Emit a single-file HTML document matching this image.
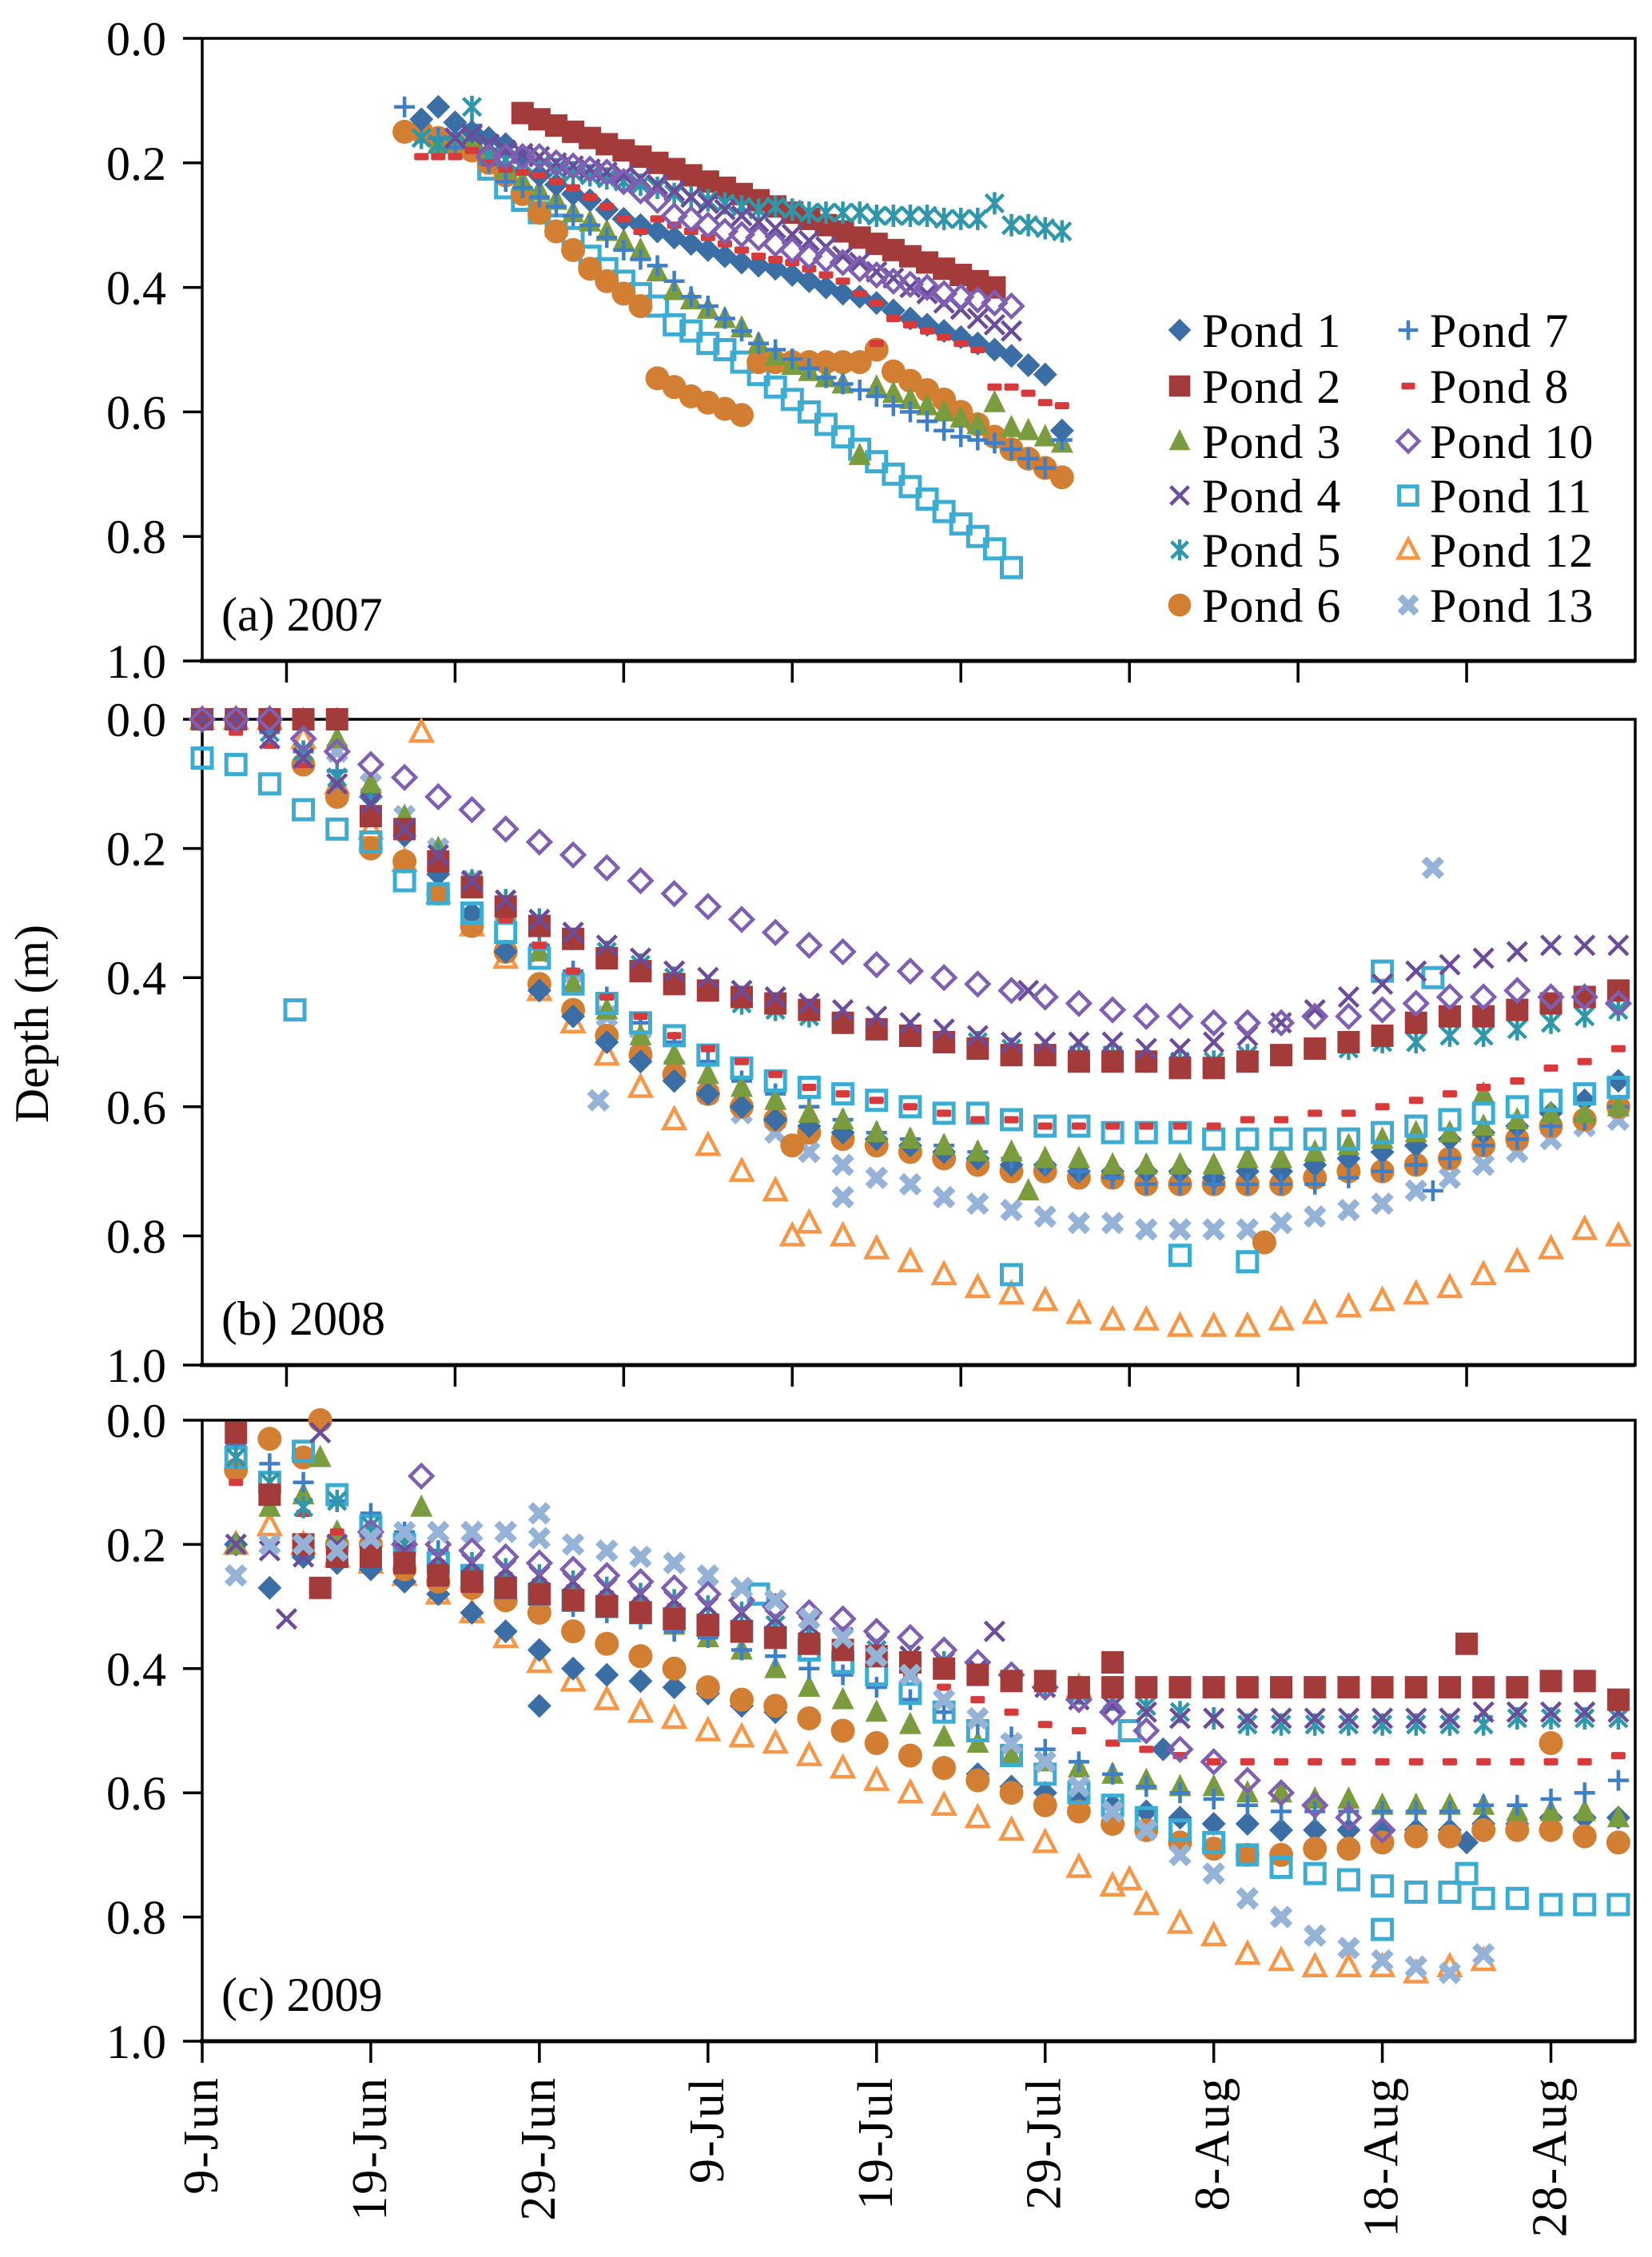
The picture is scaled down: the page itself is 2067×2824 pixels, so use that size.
<!DOCTYPE html>
<html><head><meta charset="utf-8"><style>
html,body{margin:0;padding:0;background:#fff;}
svg{display:block;font-family:"Liberation Serif",serif;}
</style></head><body>
<svg id="chart" width="2067" height="2824" viewBox="0 0 2067 2824" xmlns="http://www.w3.org/2000/svg">
<rect width="2067" height="2824" fill="#fff"/>
<g id="frames"></g>
<g id="marks"></g>
<g id="labels" font-size="60" fill="#000"></g>
<text x="0" y="0" font-size="60" text-anchor="middle" transform="translate(60,1281) rotate(-90)">Depth (m)</text>
<g id="legend" font-size="60"></g>
</svg>
<script>
// ---------- data ----------
const yTicks = [0.0, 0.2, 0.4, 0.6, 0.8, 1.0];
const yTickLabels = ["0.0","0.2","0.4","0.6","0.8","1.0"];
const xTickDays = [0,10,20,30,40,50,60,70,80];
const xTickLabels = ["9-Jun","19-Jun","29-Jun","9-Jul","19-Jul","29-Jul","8-Aug","18-Aug","28-Aug"];
const abTickDays = [5,15,25,35,45,55,65,75];
const panelNames = ["(a) 2007","(b) 2008","(c) 2009"];

// Panel a (2007), daily values
const a1 = [.13,.11,.135,.15,.16,.17,.19,.22,.235,.25,.26,.275,.29,.30,.31,.32,.33,.34,.35,.36,.365,.37,.38,.39,.40,.41,.415,.425,.437,.45,.46,.47,.48,.49,.50,.51,.525,.54];
const a2 = [.12,.13,.14,.15,.16,.17,.18,.19,.20,.21,.22,.23,.24,.25,.26,.27,.28,.29,.30,.31,.32,.33,.34,.35,.36,.37,.38,.39,.40];
const a3 = [.17,.165,.16,.19,.21,.23,.245,.26,.28,.295,.31,.325,.34,.375,.405,.42,.435,.45,.465,.49,.51,.525,.535,.545,.555,.67,.56,.57,.58,.59,.60,.61,.62,.585,.625,.63,.64,.65];
const a4 = [.16,.155,.17,.18,.185,.19,.20,.205,.21,.215,.22,.225,.235,.245,.255,.265,.275,.285,.295,.305,.315,.325,.335,.35,.36,.375,.385,.40,.41,.425,.435,.45,.46,.47];
const a5 = [.16,.17,.15,.11,.19,.195,.20,.205,.21,.215,.22,.225,.23,.235,.24,.25,.255,.26,.265,.27,.275,.27,.275,.28,.28,.28,.28,.285,.285,.285,.285,.29,.29,.29,.265,.30,.30,.305,.31];
const a6s1 = [.15,.15,.16,.17,.18,.20,.22,.25,.28,.31,.34,.37,.39,.41,.43];
const a6s2 = [.546,.56,.575,.585,.595,.605];
const a6s3 = [.52,.52,.52,.52,.52,.52,.52,.50];
const a6s4 = [.535,.55,.565,.58,.60,.62,.64,.66,.675,.69,.705];
const a7 = [.11,.13,.16,.175,.14,.20,.23,.24,.255,.27,.285,.30,.32,.34,.355,.365,.39,.415,.43,.45,.47,.49,.50,.515,.53,.545,.555,.565,.575,.59,.60,.615,.63,.64,.645,.65,.66,.675,.69,.645];
const a8 = [.19,.19,.19,.18,.20,.21,.215,.22,.23,.24,.255,.27,.29,.31,.29,.30,.31,.32,.33,.34,.35,.355,.36,.37,.38,.39,.41,.425,.45,.46,.47,.48,.49,.50,.56,.56,.57,.585,.59];
const a10 = [.19,.19,.19,.19,.20,.205,.21,.215,.23,.245,.26,.285,.29,.30,.31,.315,.32,.33,.34,.35,.355,.36,.37,.38,.39,.395,.40,.41,.415,.42,.425,.43];
const a11 = [.21,.24,.26,.28,.30,.32,.35,.37,.39,.41,.43,.46,.47,.49,.50,.52,.54,.56,.58,.60,.62,.64,.66,.68,.70,.72,.74,.76,.78,.80,.82,.85];
const aOut1 = [[51,.63]];
const aOut8 = [[40,.49]];

// Panel b (2008), every 2 days from day 0
const b1 = [0,0,0,0,0,.12,.18,.24,.3,.36,.42,.46,.5,.53,.56,.58,.6,.62,.63,.64,.65,.66,.67,.68,.69,.69,.7,.7,.7,.7,.71,.7,.7,.69,.68,.67,.66,.65,.64,.63,.61,.59,.56];
const b2 = [0,0,0,0,0,.15,.17,.22,.26,.29,.32,.34,.37,.39,.41,.42,.43,.44,.45,.47,.48,.49,.5,.51,.52,.52,.53,.53,.53,.54,.54,.53,.52,.51,.5,.49,.47,.46,.46,.45,.44,.43,.42];
const b3 = [0,0,0,0,.03,.1,.15,.2,.25,.3,.36,.41,.45,.49,.52,.55,.57,.59,.61,.62,.64,.65,.66,.67,.67,.68,.68,.69,.69,.69,.69,.68,.68,.67,.66,.65,.64,.64,.63,.62,.61,.61,.6];
const b4 = [0,0,.03,.06,.1,.13,.17,.21,.25,.28,.31,.33,.35,.37,.39,.4,.42,.43,.44,.45,.46,.47,.48,.49,.5,.5,.5,.5,.51,.51,.5,.49,.47,.45,.43,.41,.39,.38,.37,.36,.35,.35,.35];
const b5 = [0,0,.02,.05,.09,.13,.17,.21,.25,.28,.31,.34,.36,.38,.4,.42,.44,.45,.46,.47,.48,.49,.5,.5,.51,.52,.52,.52,.53,.53,.53,.52,.52,.51,.51,.5,.5,.49,.49,.48,.47,.46,.45];
const b6 = [0,0,0,.07,.12,.2,.22,.27,.32,.36,.41,.45,.49,.52,.55,.58,.6,.62,.64,.65,.66,.67,.68,.69,.7,.7,.71,.71,.72,.72,.72,.72,.72,.71,.7,.7,.69,.68,.66,.65,.63,.62,.6];
const b7 = [0,0,.02,.05,.08,.12,.16,.21,.26,.3,.35,.39,.43,.47,.5,.53,.56,.58,.6,.62,.64,.65,.66,.67,.68,.69,.7,.71,.72,.72,.72,.72,.72,.72,.71,.7,.69,.68,.66,.65,.63,.62,.6];
const b8 = [0,.02,.04,.07,.1,.14,.18,.22,.27,.31,.35,.39,.43,.46,.49,.51,.53,.55,.57,.58,.59,.6,.61,.62,.62,.63,.63,.63,.63,.63,.63,.62,.62,.61,.61,.6,.59,.58,.57,.56,.54,.53,.51];
const b10 = [0,0,0,.03,.05,.07,.09,.12,.14,.17,.19,.21,.23,.25,.27,.29,.31,.33,.35,.36,.38,.39,.4,.41,.42,.43,.44,.45,.46,.46,.47,.47,.47,.46,.46,.45,.44,.43,.43,.42,.43,.43,.44];
const b11 = [.06,.07,.1,.14,.17,.19,.25,.27,.3,.33,.37,.41,.44,.47,.49,.52,.54,.56,.57,.58,.59,.6,.61,.61,.62,.63,.63,.64,.64,.64,.65,.65,.65,.65,.65,.64,.63,.62,.61,.6,.59,.58,.57];
const b12 = [0,0,0,.03,.1,.17,.22,.27,.32,.37,.42,.47,.52,.57,.62,.66,.7,.73,.78,.8,.82,.84,.86,.88,.89,.9,.92,.93,.93,.94,.94,.94,.93,.92,.91,.9,.89,.88,.86,.84,.82,.79,.8];
const b13 = [0,0,0,0,.05,.1,.15,.2,.25,.3,.36,.41,.46,.5,.54,.58,.61,.64,.67,.69,.71,.72,.74,.75,.76,.77,.78,.78,.79,.79,.79,.79,.78,.77,.76,.75,.73,.71,.69,.67,.65,.63,.62];
const bOut3 = [[49,.73],[76,.58]];
const bOut4 = [[49,.42]];
const bOut6 = [[35,.66],[63,.81]];
const bOut7 = [[73,.73]];
const bOut11 = [[5.5,.45],[48,.86],[58,.83],[62,.84],[70,.39],[73,.4]];
const bOut12 = [[13,.02],[35,.8]];
const bOut13 = [[23.5,.59],[38,.74],[73,.23]];

// Panel c (2009), every 2 days from day 2
const c1 = [.2,.27,.22,.23,.24,.26,.28,.31,.34,.37,.4,.41,.42,.43,.44,.46,.47,.48,.5,.52,.54,.56,.57,.59,.6,.61,.62,.63,.64,.65,.65,.66,.66,.66,.66,.66,.66,.65,.65,.64,.64,.64];
const c2 = [.02,.12,.2,.22,.22,.23,.25,.26,.27,.28,.29,.3,.31,.32,.33,.34,.35,.36,.37,.38,.39,.4,.41,.42,.42,.43,.43,.43,.43,.43,.43,.43,.43,.43,.43,.43,.43,.43,.43,.42,.42,.45];
const c3 = [.2,.14,.12,.18,.2,.22,.24,.25,.26,.27,.28,.3,.31,.33,.35,.37,.4,.43,.45,.47,.49,.51,.52,.54,.55,.56,.57,.58,.59,.59,.6,.6,.61,.61,.62,.62,.62,.62,.63,.63,.63,.64];
const c4 = [.2,.21,.22,.2,.2,.21,.22,.23,.24,.25,.26,.27,.28,.29,.3,.31,.32,.33,.35,.36,.38,.39,.4,.42,.43,.45,.46,.47,.48,.48,.48,.48,.48,.48,.48,.48,.48,.47,.47,.47,.47,.47];
const c5 = [.06,.1,.14,.13,.17,.2,.22,.23,.24,.25,.26,.27,.28,.29,.3,.31,.33,.34,.35,.37,.38,.39,.41,.42,.43,.44,.45,.46,.47,.48,.49,.49,.49,.49,.49,.49,.49,.49,.48,.48,.48,.48];
const c6 = [.08,.03,.06,.2,.2,.24,.26,.27,.29,.31,.34,.36,.38,.4,.43,.45,.46,.48,.5,.52,.54,.56,.58,.6,.62,.63,.65,.66,.68,.69,.7,.7,.69,.69,.68,.67,.67,.66,.66,.66,.67,.68];
const c7 = [.04,.07,.1,.13,.15,.18,.21,.24,.26,.28,.3,.31,.32,.34,.35,.37,.38,.4,.41,.43,.45,.47,.49,.51,.53,.55,.57,.59,.6,.61,.62,.63,.63,.63,.63,.63,.63,.62,.62,.61,.6,.58];
const c8 = [.1,.12,.15,.18,.2,.22,.23,.24,.25,.26,.27,.28,.29,.3,.32,.33,.35,.36,.38,.39,.41,.43,.45,.47,.49,.5,.52,.53,.54,.55,.55,.55,.55,.55,.55,.55,.55,.55,.55,.55,.55,.54];
const c10 = [.18,.2,.2,.21,.22,.23,.24,.25,.26,.27,.28,.29,.3,.31,.32,.34,.35,.37,.39,.41,.43,.45,.47,.5,.53,.55,.58,.6,.62,.64,.66];
const c11 = [.06,.1,.05,.12,.17,.2,.23,.25,.27,.28,.29,.3,.31,.32,.33,.34,.35,.37,.39,.41,.44,.47,.5,.54,.57,.6,.62,.64,.66,.68,.7,.72,.73,.74,.75,.76,.76,.77,.77,.78,.78,.78];
const c12 = [.2,.17,.2,.22,.23,.25,.28,.31,.35,.39,.42,.45,.47,.48,.5,.51,.52,.54,.56,.58,.6,.62,.64,.66,.68,.72,.75,.78,.81,.83,.86,.87,.88,.88,.88,.89,.88,.87];
const c13 = [.25,.2,.2,.21,.19,.18,.18,.18,.18,.19,.2,.21,.22,.23,.25,.27,.29,.32,.35,.38,.41,.45,.48,.52,.55,.59,.63,.66,.7,.73,.77,.8,.83,.85,.87,.88,.89,.86];
const cOut1 = [[20,.46],[57,.53],[75,.68]];
const cOut2 = [[7,.27],[54,.39],[75,.36]];
const cOut3 = [[13,.14],[7,.06]];
const cOut4 = [[5,.32],[7,.02],[47,.34]];
const cOut6 = [[7,0],[80,.52]];
const cOut10 = [[13,.09]];
const cOut11 = [[33,.28],[55,.5],[70,.82],[75,.73]];
const cOut12 = [[52,.43],[55,.74]];
const cOut13 = [[20,.15]];

// ---------- layout ----------
const X0 = 253, X1 = 2046, DAYS = 85;
const panels = [{top:48,bot:827},{top:900,bot:1708},{top:1777,bot:2554}];
function xs(d){ return X0 + d*(X1-X0)/DAYS; }
function ys(p,v){ return panels[p].top + v*(panels[p].bot-panels[p].top); }

const NS = "http://www.w3.org/2000/svg";
function mk(tag, attrs, parent){ const e=document.createElementNS(NS,tag); for(const k in attrs) e.setAttribute(k,attrs[k]); if(parent) parent.appendChild(e); return e; }

const style = {
 1:{c:"#3a6ea5",s:"diamond"}, 2:{c:"#a33b3b",s:"square"}, 3:{c:"#7a9b3e",s:"triangle"},
 4:{c:"#6b4c9a",s:"x"}, 5:{c:"#2f97a9",s:"star"}, 6:{c:"#d27f33",s:"circle"},
 7:{c:"#3f7fc8",s:"plus"}, 8:{c:"#d63a3a",s:"dash"}, 10:{c:"#7f5fb2",s:"odiamond"},
 11:{c:"#3cacd2",s:"osquare"}, 12:{c:"#f79646",s:"otri"}, 13:{c:"#95b3d7",s:"bigx"}
};

function marker(g, shape, color, x, y, sc){
 sc = sc||1;
 let e;
 const h=14*sc;
 switch(shape){
  case "diamond": e=mk("polygon",{points:`${x},${y-h-1} ${x+h+1},${y} ${x},${y+h+1} ${x-h-1},${y}`,fill:color},g); break;
  case "square": e=mk("rect",{x:x-h,y:y-h,width:2*h,height:2*h,fill:color},g); break;
  case "triangle": e=mk("polygon",{points:`${x},${y-h-2} ${x+h},${y+h-2} ${x-h},${y+h-2}`,fill:color},g); break;
  case "circle": e=mk("circle",{cx:x,cy:y,r:h+1,fill:color},g); break;
  case "x": e=mk("path",{d:`M${x-h+2},${y-h+2}L${x+h-2},${y+h-2}M${x+h-2},${y-h+2}L${x-h+2},${y+h-2}`,stroke:color,"stroke-width":4.5,fill:"none"},g); break;
  case "star": e=mk("path",{d:`M${x-h+3},${y-h+3}L${x+h-3},${y+h-3}M${x+h-3},${y-h+3}L${x-h+3},${y+h-3}M${x},${y-h}L${x},${y+h}`,stroke:color,"stroke-width":4.5,fill:"none"},g); break;
  case "plus": e=mk("path",{d:`M${x-h+1},${y}L${x+h-1},${y}M${x},${y-h+1}L${x},${y+h-1}`,stroke:color,"stroke-width":4.5,fill:"none"},g); break;
  case "dash": e=mk("rect",{x:x-9*sc,y:y-4.5*sc,width:18*sc,height:9*sc,rx:2,fill:color},g); break;
  case "odiamond": e=mk("polygon",{points:`${x},${y-h} ${x+h},${y} ${x},${y+h} ${x-h},${y}`,fill:"none",stroke:color,"stroke-width":4.5},g); break;
  case "osquare": e=mk("rect",{x:x-h+2,y:y-h+2,width:2*h-4,height:2*h-4,fill:"none",stroke:color,"stroke-width":5},g); break;
  case "otri": e=mk("polygon",{points:`${x},${y-h} ${x+h-1},${y+h-3} ${x-h+1},${y+h-3}`,fill:"none",stroke:color,"stroke-width":4.5,"stroke-linejoin":"miter"},g); break;
  case "bigx": e=mk("path",{d:`M${x-h+3},${y-h+3}L${x+h-3},${y+h-3}M${x+h-3},${y-h+3}L${x-h+3},${y+h-3}`,stroke:color,"stroke-width":9,fill:"none"},g); break;
 }
 return e;
}

// ---------- frames & axes ----------
const fr = document.getElementById("frames");
const lab = document.getElementById("labels");
panels.forEach((p,i)=>{
 const r = mk("rect",{x:X0,y:p.top,width:X1-X0,height:p.bot-p.top,fill:"none",stroke:"#000","stroke-width":3.5},fr);
 
 
 mk("line",{x1:X0-3,x2:X1,y1:p.bot,y2:p.bot,stroke:"#000","stroke-width":5},fr);
 yTicks.forEach((v,k)=>{
  const y=ys(i,v);
  mk("line",{x1:X0-24,x2:X0,y1:y,y2:y,stroke:"#000","stroke-width":3.5},fr);
  const t=mk("text",{x:208,y:y+21,"text-anchor":"end"},lab);
  t.textContent=yTickLabels[k];
  
  
 });
 const td = i<2 ? abTickDays : xTickDays;
 td.forEach(d=>{ const x=xs(d); mk("line",{x1:x,x2:x,y1:p.bot,y2:p.bot+27,stroke:"#000","stroke-width":3.5},fr); });
 const pl = mk("text",{x:277,y:p.bot-38},lab);
 pl.textContent = panelNames[i];
 
 
});
xTickDays.forEach((d,k)=>{
 const x=xs(d);
 const t=mk("text",{x:0,y:0,"text-anchor":"end","font-size":62,"letter-spacing":"2",transform:`translate(${x+19},2598) rotate(-90)`},lab);
 t.textContent=xTickLabels[k];
 
 
});

// ---------- series ----------
const mg = document.getElementById("marks");
function plotSeries(panel, pond, start, step, vals){
 const st=style[pond];
 const g=mk("g",{},mg);
 
 
 vals.forEach((v,i)=>{ if(v===null) return; marker(g, st.s, st.c, xs(start+i*step), ys(panel,v)); });
}
function plotPts(panel, pond, pts){
 const st=style[pond];
 const g=mk("g",{},mg);
 
 
 pts.forEach(p=>marker(g, st.s, st.c, xs(p[0]), ys(panel,p[1])));
}
// panel a
plotSeries(0,11,17,1,a11);
plotSeries(0,6,12,1,a6s1); plotSeries(0,6,27,1,a6s2); plotSeries(0,6,33,1,a6s3); plotSeries(0,6,41,1,a6s4);
plotSeries(0,3,14,1,a3);
plotSeries(0,7,12,1,a7);
plotSeries(0,2,19,1,a2);
plotSeries(0,5,13,1,a5);
plotSeries(0,1,13,1,a1); plotPts(0,1,aOut1);
plotSeries(0,8,13,1,a8); plotPts(0,8,aOut8);
plotSeries(0,4,15,1,a4);
plotSeries(0,10,17,1,a10);
// panel b
plotSeries(1,12,0,2,b12); plotPts(1,12,bOut12);
plotSeries(1,13,0,2,b13); plotPts(1,13,bOut13);
plotSeries(1,6,0,2,b6); plotPts(1,6,bOut6);
plotSeries(1,1,0,2,b1);
plotSeries(1,7,0,2,b7); plotPts(1,7,bOut7);
plotSeries(1,3,0,2,b3); plotPts(1,3,bOut3);
plotSeries(1,11,0,2,b11); plotPts(1,11,bOut11);
plotSeries(1,8,0,2,b8);
plotSeries(1,5,0,2,b5);
plotSeries(1,2,0,2,b2);
plotSeries(1,4,0,2,b4); plotPts(1,4,bOut4);
plotSeries(1,10,0,2,b10);
// panel c
plotSeries(2,12,2,2,c12); plotPts(2,12,cOut12);
plotSeries(2,1,2,2,c1); plotPts(2,1,cOut1);
plotSeries(2,6,2,2,c6); plotPts(2,6,cOut6);
plotSeries(2,3,2,2,c3); plotPts(2,3,cOut3);
plotSeries(2,7,2,2,c7);
plotSeries(2,8,2,2,c8);
plotSeries(2,11,2,2,c11); plotPts(2,11,cOut11);
plotSeries(2,5,2,2,c5);
plotSeries(2,4,2,2,c4); plotPts(2,4,cOut4);
plotSeries(2,10,10,2,c10); plotPts(2,10,cOut10);
plotSeries(2,2,2,2,c2); plotPts(2,2,cOut2);
plotSeries(2,13,2,2,c13); plotPts(2,13,cOut13);

// ---------- legend ----------
const lg = document.getElementById("legend");
const legCol1 = [1,2,3,4,5,6];
const legCol2 = [7,8,10,11,12,13];
const rowY = [413,483,552,620,688,757];
function legendItem(pond, mx, tx, y){
 const g=mk("g",{},lg);
 
 
 marker(g, style[pond].s, style[pond].c, mx, y, 0.95);
 const t=mk("text",{x:tx,y:y+21,"letter-spacing":"1"},g);
 t.textContent="Pond "+pond;
}
legCol1.forEach((p,i)=>legendItem(p,1476,1504,rowY[i]));
legCol2.forEach((p,i)=>legendItem(p,1762,1789,rowY[i]));
</script>
</body></html>
